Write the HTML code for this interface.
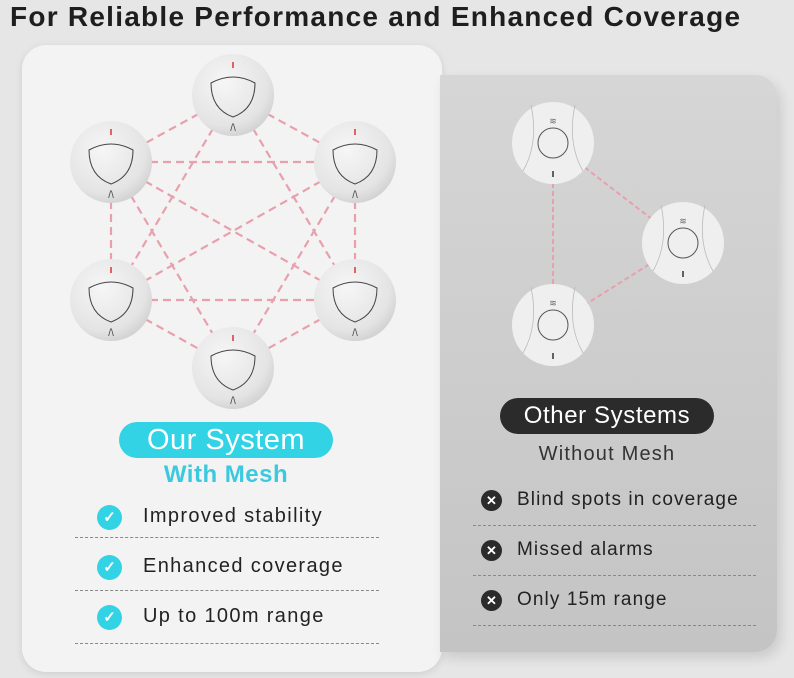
<!DOCTYPE html>
<html><head><style>
body{margin:0;width:794px;height:678px;overflow:hidden;background:#e6e6e6;font-family:"Liberation Sans",sans-serif;position:relative}
.t{position:absolute;left:10px;top:1px;font-size:28px;font-weight:bold;color:#1e1e1e;white-space:nowrap;letter-spacing:1.25px}
.lc{position:absolute;left:22px;top:45px;width:420px;height:627px;background:#f3f3f3;border-radius:24px;box-shadow:0 2px 8px rgba(0,0,0,.1)}
.rc{position:absolute;left:440px;top:75px;width:337px;height:577px;background:linear-gradient(180deg,#d6d6d6,#c4c4c4);border-radius:0 22px 22px 0;box-shadow:4px 6px 12px rgba(0,0,0,.12)}
.pill{position:absolute;border-radius:18px;text-align:center;white-space:nowrap}
.row{position:absolute;font-size:20px;color:#222;white-space:nowrap;letter-spacing:1.35px}
.rr{font-size:19px;letter-spacing:1.1px}
.line{position:absolute;height:0;border-top:1px dashed #888}
.ic{position:absolute;border-radius:50%;color:#fff;text-align:center;font-weight:bold}
</style></head><body>
<div class="t">For Reliable Performance and Enhanced Coverage</div>
<div class="lc"></div>
<div class="rc"></div>
<svg width="794" height="678" style="position:absolute;left:0;top:0">
<defs>
<radialGradient id="g" cx="40%" cy="35%" r="70%"><stop offset="0" stop-color="#f6f6f6"/><stop offset=".75" stop-color="#e4e4e4"/><stop offset="1" stop-color="#cfcfcf"/></radialGradient>
<g id="n"><circle r="41" fill="url(#g)"/><path d="M-22,-12 Q0,-24 22,-12 Q22,14 0,22 Q-22,14 -22,-12Z" fill="none" stroke="#444" stroke-width="1"/><line x1="0" y1="-33" x2="0" y2="-27" stroke="#d33" stroke-width="1.5"/><text x="0" y="36" font-size="10" text-anchor="middle" fill="#444">/\</text></g>
<g id="m"><circle r="41" fill="#efefef"/><circle r="15" fill="none" stroke="#555" stroke-width="1"/><path d="M-22,-38 Q-14,0 -30,28 M22,-38 Q14,0 30,28" fill="none" stroke="#bbb" stroke-width="0.8"/><line x1="0" y1="28" x2="0" y2="34" stroke="#333" stroke-width="1.5"/><text x="0" y="-19" font-size="9" text-anchor="middle" fill="#666">≋</text></g>
</defs>
<g stroke="#e8a0ad" stroke-width="2.2" stroke-dasharray="8,5" fill="none">
<line x1="233" y1="95" x2="111" y2="162"/><line x1="233" y1="95" x2="355" y2="162"/>
<line x1="233" y1="95" x2="111" y2="300"/><line x1="233" y1="95" x2="355" y2="300"/>
<line x1="111" y1="162" x2="355" y2="162"/><line x1="111" y1="162" x2="111" y2="300"/>
<line x1="111" y1="162" x2="355" y2="300"/><line x1="111" y1="162" x2="233" y2="368"/>
<line x1="355" y1="162" x2="111" y2="300"/><line x1="355" y1="162" x2="355" y2="300"/>
<line x1="355" y1="162" x2="233" y2="368"/><line x1="111" y1="300" x2="355" y2="300"/>
<line x1="111" y1="300" x2="233" y2="368"/><line x1="355" y1="300" x2="233" y2="368"/>
</g>
<g stroke="#e8a0ad" stroke-width="2" stroke-dasharray="5,3" fill="none">
<line x1="553" y1="143" x2="553" y2="325"/><line x1="553" y1="143" x2="683" y2="243"/><line x1="683" y1="243" x2="553" y2="325"/>
</g>
<use href="#n" x="233" y="95"/><use href="#n" x="111" y="162"/><use href="#n" x="355" y="162"/>
<use href="#n" x="111" y="300"/><use href="#n" x="355" y="300"/><use href="#n" x="233" y="368"/>
<use href="#m" x="553" y="143"/><use href="#m" x="683" y="243"/><use href="#m" x="553" y="325"/>
</svg>
<div class="pill" style="left:119px;top:422px;width:214px;height:36px;background:#33d3e6;color:#fff;font-size:29px;line-height:36px;letter-spacing:0.5px">Our System</div>
<div style="position:absolute;left:119px;top:461px;width:214px;text-align:center;font-size:24px;font-weight:bold;color:#3cc9df;letter-spacing:0.5px">With Mesh</div>
<div class="ic" style="left:97px;top:505px;width:25px;height:25px;background:#33d3e6;font-size:15px;line-height:25px">✓</div>
<div class="ic" style="left:97px;top:555px;width:25px;height:25px;background:#33d3e6;font-size:15px;line-height:25px">✓</div>
<div class="ic" style="left:97px;top:605px;width:25px;height:25px;background:#33d3e6;font-size:15px;line-height:25px">✓</div>
<div class="row" style="left:143px;top:505px">Improved stability</div>
<div class="row" style="left:143px;top:555px">Enhanced coverage</div>
<div class="row" style="left:143px;top:605px">Up to 100m range</div>
<div class="line" style="left:75px;top:537px;width:304px"></div>
<div class="line" style="left:75px;top:590px;width:304px"></div>
<div class="line" style="left:75px;top:643px;width:304px"></div>
<div class="pill" style="left:500px;top:398px;width:214px;height:36px;background:#2b2b2b;color:#fff;font-size:24px;line-height:36px;letter-spacing:0.6px">Other Systems</div>
<div style="position:absolute;left:500px;top:443px;width:214px;text-align:center;font-size:20px;color:#333;letter-spacing:1.2px">Without Mesh</div>
<div class="ic" style="left:481px;top:490px;width:21px;height:21px;background:#2b2b2b;font-size:13px;line-height:21px">✕</div>
<div class="ic" style="left:481px;top:540px;width:21px;height:21px;background:#2b2b2b;font-size:13px;line-height:21px">✕</div>
<div class="ic" style="left:481px;top:590px;width:21px;height:21px;background:#2b2b2b;font-size:13px;line-height:21px">✕</div>
<div class="row rr" style="left:517px;top:489px">Blind spots in coverage</div>
<div class="row rr" style="left:517px;top:539px">Missed alarms</div>
<div class="row rr" style="left:517px;top:589px">Only 15m range</div>
<div class="line" style="left:473px;top:525px;width:283px"></div>
<div class="line" style="left:473px;top:575px;width:283px"></div>
<div class="line" style="left:473px;top:625px;width:283px"></div>
</body></html>
